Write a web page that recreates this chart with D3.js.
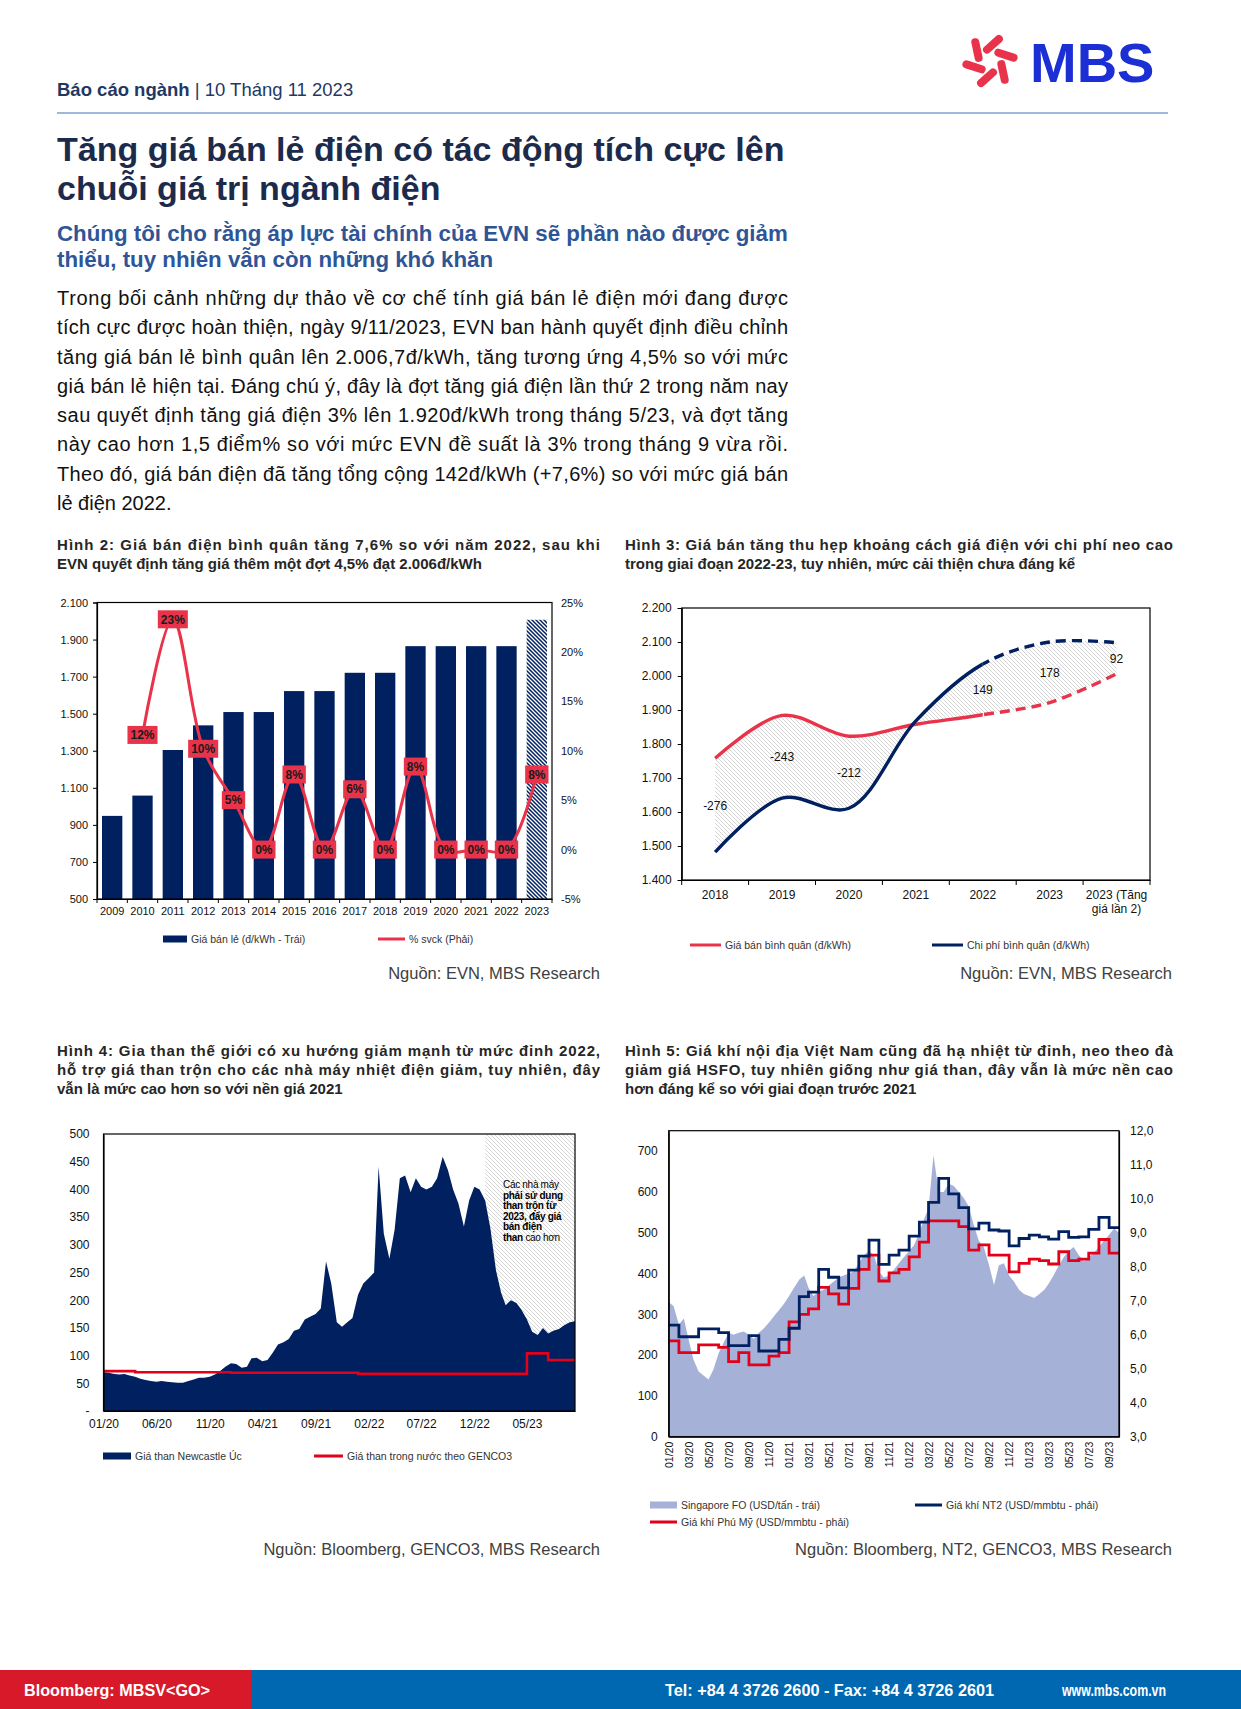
<!DOCTYPE html>
<html>
<head>
<meta charset="utf-8">
<script src="https://cdn.jsdelivr.net/npm/d3@7"></script>
<style>
  body { margin: 0; background: #fff; }
  svg { display: block; font-family: "Liberation Sans", Arial, sans-serif; }
</style>
</head>
<body>
<svg id="page" width="1241" height="1709"></svg>
<script>
// ---------- data: Hinh 2 ----------
const priceYears = ["2009","2010","2011","2012","2013","2014","2015","2016","2017","2018","2019","2020","2021","2022","2023"];
const retailPrice = [948.5, 1058, 1304, 1437, 1508.9, 1508.9, 1622, 1622, 1720.7, 1720.7, 1864.4, 1864.4, 1864.4, 1864.4, 2006.8];
const yoyChange = [null, 0.116, 0.233, 0.102, 0.05, 0, 0.076, 0, 0.061, 0, 0.084, 0, 0, 0, 0.076];
const priceTicks = [500, 700, 900, 1100, 1300, 1500, 1700, 1900, 2100];
const pctTicks = [-0.05, 0, 0.05, 0.1, 0.15, 0.2, 0.25];

// ---------- data: Hinh 3 ----------
const gapCategories = ["2018", "2019", "2020", "2021", "2022", "2023", "2023 (Tăng\ngiá lần 2)"];
const avgSellPrice = [1758, 1884, 1823, 1858, 1886, 1922, 2006];
const avgCost = [1482, 1641, 1611, 1868, 2035, 2100, 2098];
const gapShown = [true, true, true, false, true, true, true];
const gapTicks = [1400, 1500, 1600, 1700, 1800, 1900, 2000, 2100, 2200];

// ---------- data: Hinh 4 (semi-monthly from 01/2020) ----------
const coalNewcastle = [
  70, 69, 67, 66, 67, 64, 62, 58, 56, 54, 53, 54, 53, 52, 51, 51, 54, 57, 60, 60, 62, 66, 72, 80,
  86, 85, 78, 80, 95, 96, 90, 92, 105, 120, 124, 130, 145, 148, 165, 170, 175, 185, 270, 230, 160, 152, 160, 168,
  210, 230, 240, 250, 441, 320, 275, 327, 420, 425, 395, 420, 405, 400, 405, 420, 459, 435, 400, 375, 333, 380, 405, 400,
  380, 330, 254, 213, 191, 200, 195, 182, 165, 143, 137, 150, 140, 145, 148, 155, 160, 162
];
// monthly from 01/2020
const coalGenco3 = [
  72, 72, 72, 70, 70, 70, 70, 70, 70, 70, 70, 70,
  69, 69, 69, 69, 69, 69, 69, 69, 69, 69, 69, 69,
  67, 67, 67, 67, 67, 67, 67, 67, 67, 67, 67, 67,
  67, 67, 67, 67, 104, 104, 92, 92, 92
];
const coalTickLabels = ["01/20", "06/20", "11/20", "04/21", "09/21", "02/22", "07/22", "12/22", "05/23"];
const coalTicks = [0, 50, 100, 150, 200, 250, 300, 350, 400, 450, 500];

// ---------- data: Hinh 5 ----------
// Singapore FO, semi-monthly from 01/2020 (USD/tan)
const singaporeFO = [
  330, 320, 275, 290, 240, 190, 160, 150, 140, 165, 205, 230, 255, 250, 255, 258, 250, 240, 255, 265, 280, 295, 310, 325,
  345, 365, 385, 395, 365, 345, 355, 360, 370, 380, 390, 395, 400, 405, 425, 445, 455, 445, 405, 390, 395, 410, 425, 440,
  455, 470, 500, 535, 560, 690, 600, 600, 620, 615, 600, 585, 565, 520, 480, 465, 420, 372, 420, 425, 395, 380, 360, 350,
  345, 340, 350, 360, 375, 395, 420, 440, 455, 465, 445, 430, 440, 450, 465, 480, 495, 510, 500
];
// monthly from 01/2020 (USD/mmbtu)
const gasNT2 = [
  6.28, 5.94, 5.94, 6.17, 6.17, 6.06, 5.68, 5.68, 5.97, 5.52, 5.52, 5.86,
  6.19, 7.12, 7.25, 7.92, 7.69, 7.38, 7.90, 8.31, 8.78, 8.07, 8.34, 8.49,
  8.90, 9.31, 9.89, 10.60, 10.14, 9.74, 9.11, 9.28, 9.08, 9.05, 8.61, 8.83,
  8.93, 8.88, 8.81, 9.03, 8.86, 8.88, 9.10, 9.45, 9.15
];
const gasPhuMy = [
  5.82, 5.47, 5.47, 5.70, 5.70, 5.63, 5.21, 5.47, 5.11, 5.11, 5.37, 5.47,
  6.38, 6.60, 6.76, 7.39, 7.20, 6.90, 7.36, 7.92, 8.34, 7.58, 7.82, 7.92,
  8.29, 8.72, 9.35, 9.35, 9.35, 9.18, 8.49, 8.64, 8.34, 8.34, 7.85, 8.10,
  8.22, 8.18, 8.08, 8.44, 8.18, 8.22, 8.40, 8.80, 8.40
];
const gasTickLabels = ["01/20","03/20","05/20","07/20","09/20","11/20","01/21","03/21","05/21","07/21","09/21","11/21",
  "01/22","03/22","05/22","07/22","09/22","11/22","01/23","03/23","05/23","07/23","09/23"];
const foTicks = [0, 100, 200, 300, 400, 500, 600, 700];
const gasTicks = [3, 4, 5, 6, 7, 8, 9, 10, 11, 12];

// ---------- page text ----------
const bodyLines = [
  "Trong bối cảnh những dự thảo về cơ chế tính giá bán lẻ điện mới đang được",
  "tích cực được hoàn thiện, ngày 9/11/2023, EVN ban hành quyết định điều chỉnh",
  "tăng giá bán lẻ bình quân lên 2.006,7đ/kWh, tăng tương ứng 4,5% so với mức",
  "giá bán lẻ hiện tại. Đáng chú ý, đây là đợt tăng giá điện lần thứ 2 trong năm nay",
  "sau quyết định tăng giá điện 3% lên 1.920đ/kWh trong tháng 5/23, và đợt tăng",
  "này cao hơn 1,5 điểm% so với mức EVN đề suất là 3% trong tháng 9 vừa rồi.",
  "Theo đó, giá bán điện đã tăng tổng cộng 142đ/kWh (+7,6%) so với mức giá bán",
  "lẻ điện 2022."
];

const NAVY = "#002060";
const PINK = "#e8334a";
const RED = "#e2001a";
const LAV = "#a6b1d8";

const vi = d3.formatLocale({decimal: ",", thousands: ".", grouping: [3], currency: ["", "đ"], minus: "-"});
const fmtThousand = vi.format(",");
const fmtPct = vi.format(".0%");
const fmtDec1 = vi.format(".1f");
const fmtInt = vi.format("d");

const svg = d3.select("#page");
const defs = svg.append("defs");

const pg = defs.append("pattern").attr("id", "hatchGray")
  .attr("patternUnits", "userSpaceOnUse").attr("width", 4).attr("height", 4);
pg.append("path").attr("d", "M-1,-1L5,5M-1,3L1,5M3,-1L5,1")
  .attr("stroke", "#c4c4c4").attr("stroke-width", 0.7);

const pn = defs.append("pattern").attr("id", "hatchNavy")
  .attr("patternUnits", "userSpaceOnUse").attr("width", 4).attr("height", 4);
pn.append("rect").attr("width", 4).attr("height", 4).attr("fill", "#fff");
pn.append("path").attr("d", "M-1,-1L5,5M-1,3L1,5M3,-1L5,1")
  .attr("stroke", NAVY).attr("stroke-width", 1.5);

function addText(x, y, s, o = {}) {
  const t = svg.append("text").attr("x", x).attr("y", y).text(s)
    .attr("font-size", o.size || 12).attr("fill", o.fill || "#000");
  if (o.weight) t.attr("font-weight", o.weight);
  if (o.anchor) t.attr("text-anchor", o.anchor);
  if (o.width) t.attr("textLength", o.width).attr("lengthAdjust", o.adjust || "spacing");
  return t;
}

function styleAxis(sel, size) {
  sel.attr("font-family", null).attr("font-size", null);
  sel.select(".domain").attr("stroke", "#000").attr("stroke-width", 1.2);
  sel.selectAll(".tick line").attr("stroke", "#000");
  sel.selectAll(".tick text").attr("font-size", size).attr("fill", "#111");
}

function legendItem(x, y, kind, color, w, label) {
  if (kind === "rect") {
    svg.append("rect").attr("x", x).attr("y", y - 3.5).attr("width", w).attr("height", 7).attr("fill", color);
  } else {
    svg.append("line").attr("x1", x).attr("x2", x + w).attr("y1", y).attr("y2", y)
      .attr("stroke", color).attr("stroke-width", 3);
  }
  addText(x + w + 4, y + 3.8, label, {size: 10.5, fill: "#333"});
}

// ---------- header ----------
const hdr = svg.append("text").attr("x", 57).attr("y", 96).attr("font-size", 18.5).attr("fill", "#1f3864");
hdr.append("tspan").attr("font-weight", "bold").text("Báo cáo ngành");
hdr.append("tspan").text(" | 10 Tháng 11 2023");
svg.append("line").attr("x1", 57).attr("x2", 1168).attr("y1", 113).attr("y2", 113)
  .attr("stroke", "#7f9fcf").attr("stroke-width", 1.5);

// logo: pinwheel of capsules + wordmark
const logo = svg.append("g").attr("transform", "translate(990,61)");
d3.range(6).forEach(k => {
  logo.append("rect").attr("x", -4).attr("y", -12).attr("width", 8).attr("height", 24)
    .attr("rx", 4).attr("fill", "#e8334a")
    .attr("transform", `rotate(${k * 60 + 10}) translate(0,-17) rotate(38)`);
});
addText(1030, 82, "MBS", {size: 56, weight: "bold", fill: "#1b2fd4"});

// titles
addText(57, 161, "Tăng giá bán lẻ điện có tác động tích cực lên", {size: 34, weight: "bold", fill: "#1c2b4b"});
addText(57, 199.5, "chuỗi giá trị ngành điện", {size: 34, weight: "bold", fill: "#1c2b4b"});
addText(57, 241, "Chúng tôi cho rằng áp lực tài chính của EVN sẽ phần nào được giảm", {size: 22.3, weight: "bold", fill: "#2f5597"});
addText(57, 267, "thiểu, tuy nhiên vẫn còn những khó khăn", {size: 22.3, weight: "bold", fill: "#2f5597"});
bodyLines.forEach((s, i) => {
  addText(57, 305 + i * 29.25, s, {size: 20, fill: "#111", width: i < bodyLines.length - 1 ? 731 : null});
});

// chart titles
function chartTitle(x, y, lines, w) {
  lines.forEach((s, i) => addText(x, y + i * 19, s, {size: 15, weight: "bold", fill: "#262626",
    width: i < lines.length - 1 ? w : null}));
}
chartTitle(57, 550, ["Hình 2: Giá bán điện bình quân tăng 7,6% so với năm 2022, sau khi",
  "EVN quyết định tăng giá thêm một đợt 4,5% đạt 2.006đ/kWh"], 543);
chartTitle(625, 550, ["Hình 3: Giá bán tăng thu hẹp khoảng cách giá điện với chi phí neo cao",
  "trong giai đoạn 2022-23, tuy nhiên, mức cải thiện chưa đáng kể"], 548);
chartTitle(57, 1056, ["Hình 4: Gia than thế giới có xu hướng giảm mạnh từ mức đỉnh 2022,",
  "hỗ trợ giá than trộn cho các nhà máy nhiệt điện giảm, tuy nhiên, đây",
  "vẫn là mức cao hơn so với nền giá 2021"], 543);
chartTitle(625, 1056, ["Hình 5: Giá khí nội địa Việt Nam cũng đã hạ nhiệt từ đỉnh, neo theo đà",
  "giảm giá HSFO, tuy nhiên giống như giá than, đây vẫn là mức nền cao",
  "hơn đáng kể so với giai đoạn trước 2021"], 548);

// sources
addText(600, 979, "Nguồn: EVN, MBS Research", {size: 16.5, fill: "#404040", anchor: "end"});
addText(1172, 979, "Nguồn: EVN, MBS Research", {size: 16.5, fill: "#404040", anchor: "end"});
addText(600, 1555, "Nguồn: Bloomberg, GENCO3, MBS Research", {size: 16.5, fill: "#404040", anchor: "end"});
addText(1172, 1555, "Nguồn: Bloomberg, NT2, GENCO3, MBS Research", {size: 16.5, fill: "#404040", anchor: "end"});

// ---------- Hinh 2 ----------
{
  const c = {l: 97, r: 552, t: 602.5, b: 899};
  const g = svg.append("g");
  const x = d3.scaleBand().domain(priceYears).range([c.l, c.r]).paddingInner(0.33).paddingOuter(0.165);
  const y = d3.scaleLinear().domain([500, 2100]).range([c.b, c.t]);
  const yr = d3.scaleLinear().domain([-0.05, 0.25]).range([c.b, c.t]);
  const cx = d => x(d) + x.bandwidth() / 2;

  g.selectAll("rect.bar").data(priceYears).join("rect").attr("class", "bar")
    .attr("x", d => x(d)).attr("width", x.bandwidth())
    .attr("y", (d, i) => y(retailPrice[i]))
    .attr("height", (d, i) => c.b - y(retailPrice[i]))
    .attr("fill", (d, i) => i === priceYears.length - 1 ? "url(#hatchNavy)" : NAVY);

  g.append("rect").attr("x", c.l).attr("y", c.t).attr("width", c.r - c.l).attr("height", c.b - c.t)
    .attr("fill", "none").attr("stroke", "#000").attr("stroke-width", 1.2);

  const ax = g.append("g").attr("transform", `translate(${c.l},0)`)
    .call(d3.axisLeft(y).tickValues(priceTicks).tickFormat(fmtThousand).tickSize(4).tickPadding(5));
  styleAxis(ax, 11);
  const axr = g.append("g").attr("transform", `translate(${c.r},0)`)
    .call(d3.axisRight(yr).tickValues(pctTicks).tickFormat(fmtPct).tickSize(0).tickPadding(9));
  styleAxis(axr, 11);
  axr.select(".domain").remove();
  const axb = g.append("g").attr("transform", `translate(0,${c.b})`)
    .call(d3.axisBottom(x).tickSize(0).tickPadding(8));
  styleAxis(axb, 11);
  g.selectAll("line.bt").data(d3.range(priceYears.length + 1)).join("line").attr("class", "bt")
    .attr("x1", i => c.l + i * x.step()).attr("x2", i => c.l + i * x.step())
    .attr("y1", c.b).attr("y2", c.b + 4).attr("stroke", "#000");

  const pts = priceYears.map((d, i) => ({d, v: yoyChange[i]})).filter(p => p.v != null);
  const line = d3.line().x(p => cx(p.d)).y(p => yr(p.v)).curve(d3.curveCatmullRom.alpha(0.5));
  g.append("path").attr("d", line(pts)).attr("fill", "none").attr("stroke", PINK).attr("stroke-width", 3);

  const lab = g.selectAll("g.lab").data(pts).join("g").attr("class", "lab")
    .attr("transform", p => `translate(${cx(p.d)},${yr(p.v)})`);
  lab.append("rect");
  lab.append("text").text(p => fmtPct(p.v)).attr("text-anchor", "middle").attr("y", 4.2)
    .attr("font-size", 12).attr("font-weight", "bold").attr("fill", "#1a1a1a");
  lab.each(function () {
    const w = d3.select(this).select("text").node().getComputedTextLength() + 6;
    d3.select(this).select("rect").attr("x", -w / 2).attr("y", -9).attr("width", w).attr("height", 18).attr("fill", PINK);
  });

  legendItem(163, 939, "rect", NAVY, 24, "Giá bán lẻ (đ/kWh - Trái)");
  legendItem(378, 939, "line", PINK, 27, "% svck (Phải)");
}

// ---------- Hinh 3 ----------
{
  const c = {l: 681.7, r: 1150, t: 608, b: 880};
  const g = svg.append("g");
  const x = d3.scaleBand().domain(gapCategories).range([c.l, c.r]);
  const y = d3.scaleLinear().domain([1400, 2200]).range([c.b, c.t]);
  const cx = d => x(d) + x.bandwidth() / 2;
  const rows = gapCategories.map((d, i) => ({d, sell: avgSellPrice[i], cost: avgCost[i], show: gapShown[i]}));
  const curve = d3.curveCatmullRom.alpha(0.5);
  const splitX = cx(gapCategories[4]);

  defs.append("clipPath").attr("id", "solidPart").append("rect")
    .attr("x", 0).attr("y", 0).attr("width", splitX).attr("height", 1709);
  defs.append("clipPath").attr("id", "dashPart").append("rect")
    .attr("x", splitX).attr("y", 0).attr("width", 1241 - splitX).attr("height", 1709);

  g.append("path").attr("d", d3.area().x(r => cx(r.d)).y0(r => y(r.sell)).y1(r => y(r.cost)).curve(curve)(rows))
    .attr("fill", "url(#hatchGray)");

  g.append("rect").attr("x", c.l).attr("y", c.t).attr("width", c.r - c.l).attr("height", c.b - c.t)
    .attr("fill", "none").attr("stroke", "#000").attr("stroke-width", 1.2);

  [["sell", PINK], ["cost", NAVY]].forEach(([k, col]) => {
    const p = d3.line().x(r => cx(r.d)).y(r => y(r[k])).curve(curve)(rows);
    g.append("path").attr("d", p).attr("fill", "none").attr("stroke", col).attr("stroke-width", 3.4)
      .attr("clip-path", "url(#solidPart)");
    g.append("path").attr("d", p).attr("fill", "none").attr("stroke", col).attr("stroke-width", 3.4)
      .attr("stroke-dasharray", "10,6").attr("clip-path", "url(#dashPart)");
  });

  g.selectAll("text.gap").data(rows.filter(r => r.show)).join("text").attr("class", "gap")
    .attr("x", r => cx(r.d)).attr("y", r => y((r.sell + r.cost) / 2) + 4.5)
    .attr("text-anchor", "middle").attr("font-size", 12).attr("fill", "#111")
    .text(r => fmtInt(r.cost - r.sell));

  const ax = g.append("g").attr("transform", `translate(${c.l},0)`)
    .call(d3.axisLeft(y).tickValues(gapTicks).tickFormat(fmtThousand).tickSize(4).tickPadding(6));
  styleAxis(ax, 12);
  const axb = g.append("g").attr("transform", `translate(0,${c.b})`)
    .call(d3.axisBottom(x).tickSize(0).tickPadding(10));
  styleAxis(axb, 12);
  axb.selectAll(".tick text").each(function (d) {
    const parts = d.split("\n");
    const t = d3.select(this).text(null);
    parts.forEach((s, i) => t.append("tspan").attr("x", 0).attr("dy", i === 0 ? "0.71em" : "1.2em").text(s));
  });
  g.selectAll("line.bt").data(d3.range(gapCategories.length + 1)).join("line").attr("class", "bt")
    .attr("x1", i => c.l + i * x.step()).attr("x2", i => c.l + i * x.step())
    .attr("y1", c.b).attr("y2", c.b + 5).attr("stroke", "#000");

  legendItem(690, 945, "line", PINK, 31, "Giá bán bình quân (đ/kWh)");
  legendItem(932, 945, "line", NAVY, 31, "Chi phí bình quân (đ/kWh)");
}

// ---------- Hinh 4 ----------
{
  const c = {l: 103.5, r: 575, t: 1134, b: 1411};
  const g = svg.append("g");
  const coal = coalNewcastle.map((v, i) => ({date: new Date(2020, Math.floor(i / 2), i % 2 ? 16 : 1), v}));
  const endDate = coal[coal.length - 1].date;
  const genco = coalGenco3.map((v, m) => ({date: new Date(2020, m, 1), v}));
  genco.push({date: endDate, v: coalGenco3[coalGenco3.length - 1]});
  const x = d3.scaleTime().domain([new Date(2020, 0, 1), endDate]).range([c.l, c.r]);
  const y = d3.scaleLinear().domain([0, 500]).range([c.b, c.t]);
  const parse = d3.timeParse("%m/%y");

  const hx = x(new Date(2023, 0, 1));
  g.append("rect").attr("x", hx).attr("y", c.t).attr("width", c.r - hx).attr("height", c.b - c.t)
    .attr("fill", "url(#hatchGray)");

  g.append("path").attr("d", d3.area().x(p => x(p.date)).y0(c.b).y1(p => y(p.v))(coal)).attr("fill", NAVY);
  g.append("path").attr("d", d3.line().x(p => x(p.date)).y(p => y(p.v)).curve(d3.curveStepAfter)(genco))
    .attr("fill", "none").attr("stroke", RED).attr("stroke-width", 2.6);

  g.append("rect").attr("x", c.l).attr("y", c.t).attr("width", c.r - c.l).attr("height", c.b - c.t)
    .attr("fill", "none").attr("stroke", "#000").attr("stroke-width", 1.2);

  const ax = g.append("g").attr("transform", `translate(${c.l},0)`)
    .call(d3.axisLeft(y).tickValues(coalTicks).tickFormat(d => d === 0 ? "-" : d).tickSize(0).tickPadding(14));
  styleAxis(ax, 12);
  const axb = g.append("g").attr("transform", `translate(0,${c.b})`)
    .call(d3.axisBottom(x).tickValues(coalTickLabels.map(parse)).tickFormat(d3.timeFormat("%m/%y")).tickSize(0).tickPadding(8));
  styleAxis(axb, 12);

  const note = [
    [["Các nhà máy", "normal"]],
    [["phải sử dụng", "bold"]],
    [["than trộn từ", "bold"]],
    [["2023, đẩy giá", "bold"]],
    [["bán điện", "bold"]],
    [["than", "bold"], [" cao hơn", "normal"]]
  ];
  note.forEach((parts, i) => {
    const t = svg.append("text").attr("x", 503).attr("y", 1188 + i * 10.6)
      .attr("font-size", 10).attr("fill", "#000").attr("letter-spacing", -0.3);
    parts.forEach(([s, w]) => t.append("tspan").attr("font-weight", w).text(s));
  });

  legendItem(103, 1456, "rect", NAVY, 28, "Giá than Newcastle Úc");
  legendItem(314, 1456, "line", RED, 29, "Giá than trong nước theo GENCO3");
}

// ---------- Hinh 5 ----------
{
  const c = {l: 668.7, r: 1119, t: 1130.7, b: 1436.7};
  const g = svg.append("g");
  const fo = singaporeFO.map((v, i) => ({date: new Date(2020, Math.floor(i / 2), i % 2 ? 16 : 1), v}));
  const endDate = fo[fo.length - 1].date;
  const x = d3.scaleTime().domain([new Date(2020, 0, 1), endDate]).range([c.l, c.r]);
  const yl = d3.scaleLinear().domain([0, 750]).range([c.b, c.t]);
  const yr = d3.scaleLinear().domain([3, 12]).range([c.b, c.t]);
  const parse = d3.timeParse("%m/%y");
  const monthly = arr => {
    const out = arr.map((v, m) => ({date: new Date(2020, m, 1), v}));
    out.push({date: endDate, v: arr[arr.length - 1]});
    return out;
  };

  g.append("path").attr("d", d3.area().x(p => x(p.date)).y0(c.b).y1(p => yl(p.v))(fo)).attr("fill", LAV);
  const step = d3.line().x(p => x(p.date)).y(p => yr(p.v)).curve(d3.curveStepAfter);
  g.append("path").attr("d", step(monthly(gasPhuMy))).attr("fill", "none").attr("stroke", RED).attr("stroke-width", 2.8);
  g.append("path").attr("d", step(monthly(gasNT2))).attr("fill", "none").attr("stroke", NAVY).attr("stroke-width", 2.8);

  g.append("rect").attr("x", c.l).attr("y", c.t).attr("width", c.r - c.l).attr("height", c.b - c.t)
    .attr("fill", "none").attr("stroke", "#000").attr("stroke-width", 1.2);

  const ax = g.append("g").attr("transform", `translate(${c.l},0)`)
    .call(d3.axisLeft(yl).tickValues(foTicks).tickSize(0).tickPadding(11));
  styleAxis(ax, 12);
  const axr = g.append("g").attr("transform", `translate(${c.r},0)`)
    .call(d3.axisRight(yr).tickValues(gasTicks).tickFormat(fmtDec1).tickSize(0).tickPadding(11));
  styleAxis(axr, 12);
  const axb = g.append("g").attr("transform", `translate(0,${c.b})`)
    .call(d3.axisBottom(x).tickValues(gasTickLabels.map(parse)).tickFormat(d3.timeFormat("%m/%y")).tickSize(0));
  styleAxis(axb, 10.5);
  axb.selectAll(".tick text").attr("transform", "rotate(-90)").attr("text-anchor", "end")
    .attr("x", -5).attr("y", 0).attr("dy", "0.35em");

  legendItem(650, 1505, "rect", LAV, 27, "Singapore FO (USD/tấn - trái)");
  legendItem(915, 1505, "line", NAVY, 27, "Giá khí NT2 (USD/mmbtu  - phải)");
  legendItem(650, 1522, "line", RED, 27, "Giá khí Phú Mỹ (USD/mmbtu - phải)");
}

// ---------- footer ----------
svg.append("rect").attr("x", 0).attr("y", 1670).attr("width", 251).attr("height", 39).attr("fill", "#d7192a");
svg.append("rect").attr("x", 251).attr("y", 1670).attr("width", 990).attr("height", 39).attr("fill", "#0067b1");
addText(24, 1696, "Bloomberg: MBSV<GO>", {size: 16, weight: "bold", fill: "#fff", width: 186, adjust: "spacingAndGlyphs"});
addText(665, 1696, "Tel: +84 4 3726 2600 - Fax: +84 4 3726 2601", {size: 16, weight: "bold", fill: "#fff", width: 329, adjust: "spacingAndGlyphs"});
addText(1062, 1696, "www.mbs.com.vn", {size: 16, weight: "bold", fill: "#fff", width: 104, adjust: "spacingAndGlyphs"});
</script>
</body>
</html>
